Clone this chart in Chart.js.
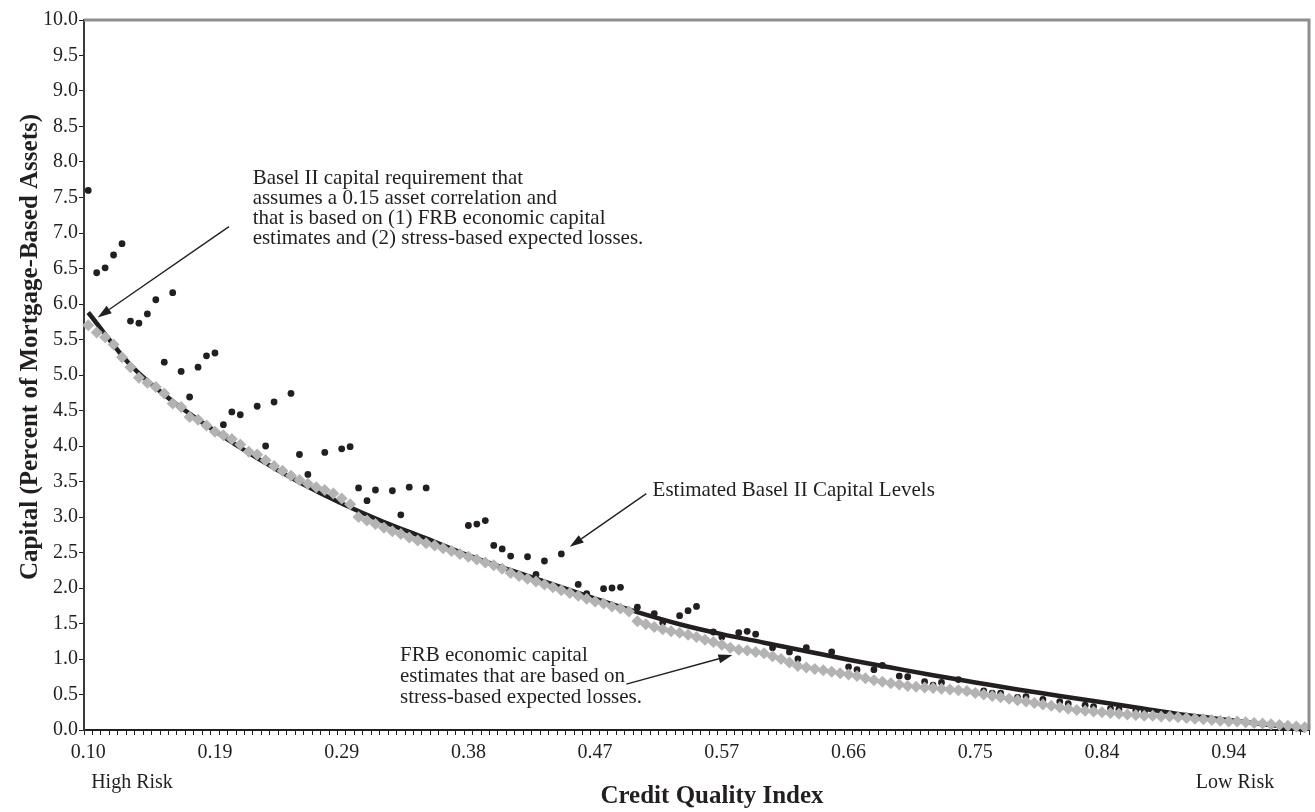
<!DOCTYPE html>
<html>
<head>
<meta charset="utf-8">
<script src="https://cdn.jsdelivr.net/npm/chart.js@4.4.1/dist/chart.umd.min.js"></script>
<style>
  html, body { margin: 0; padding: 0; background: #ffffff; }
  canvas { display: block; }
</style>
</head>
<body>
<canvas id="chart" width="1315" height="812"></canvas>
<script>
// Credit quality index axis: one category per step, a label every 15 steps
const tickLabels = ['0.10', '0.19', '0.29', '0.38', '0.47', '0.57', '0.66', '0.75', '0.84', '0.94'];
const TICK_EVERY = 15;

// FRB economic capital estimates based on stress-based expected losses (grey diamonds)
const frbCapital = [
  5.70, 5.60, 5.53, 5.43, 5.25, 5.11, 4.96, 4.89, 4.83, 4.74,
  4.60, 4.55, 4.41, 4.37, 4.29, 4.20, 4.15, 4.10, 4.02, 3.92,
  3.88, 3.80, 3.72, 3.65, 3.58, 3.52, 3.47, 3.42, 3.38, 3.33,
  3.26, 3.18, 3.00, 2.95, 2.90, 2.85, 2.80, 2.76, 2.71, 2.67,
  2.63, 2.60, 2.56, 2.52, 2.48, 2.44, 2.40, 2.36, 2.32, 2.27,
  2.21, 2.17, 2.13, 2.09, 2.05, 2.01, 1.97, 1.93, 1.89, 1.85,
  1.81, 1.78, 1.74, 1.71, 1.67, 1.53, 1.49, 1.45, 1.42, 1.39,
  1.37, 1.34, 1.31, 1.27, 1.24, 1.20, 1.16, 1.13, 1.12, 1.10,
  1.08, 1.04, 1.00, 0.95, 0.90, 0.88, 0.86, 0.84, 0.82, 0.80,
  0.78, 0.76, 0.73, 0.70, 0.68, 0.66, 0.64, 0.62, 0.61, 0.60,
  0.59, 0.58, 0.57, 0.56, 0.55, 0.52, 0.50, 0.48, 0.46, 0.44,
  0.42, 0.40, 0.38, 0.36, 0.34, 0.32, 0.30, 0.28, 0.27, 0.26,
  0.25, 0.24, 0.23, 0.22, 0.21, 0.20, 0.20, 0.19, 0.19, 0.18,
  0.17, 0.16, 0.15, 0.14, 0.13, 0.12, 0.12, 0.11, 0.10, 0.09,
  0.08, 0.07, 0.06, 0.05, 0.04
];

// Estimated Basel II capital levels (black dots)
const estimatedBasel = [
  7.60, 6.44, 6.51, 6.69, 6.85, 5.76, 5.73, 5.86, 6.06, 5.18,
  6.16, 5.05, 4.69, 5.11, 5.27, 5.31, 4.30, 4.48, 4.44, null,
  4.56, 4.00, 4.62, null, 4.74, 3.88, 3.60, null, 3.91, null,
  3.96, 3.99, 3.41, 3.23, 3.38, null, 3.37, 3.03, 3.42, null,
  3.41, null, null, null, null, 2.88, 2.90, 2.95, 2.60, 2.55,
  2.45, null, 2.44, 2.19, 2.38, null, 2.48, null, 2.05, 1.92,
  null, 1.99, 2.00, 2.01, null, 1.73, null, 1.64, 1.51, null,
  1.61, 1.68, 1.74, null, 1.38, 1.31, null, 1.37, 1.39, 1.35,
  null, 1.16, null, 1.10, 1.00, 1.16, null, null, 1.10, null,
  0.89, 0.85, null, 0.85, 0.91, null, 0.76, 0.75, null, 0.68,
  0.63, 0.67, null, 0.71, 0.54, null, 0.55, 0.52, 0.52, null,
  0.46, 0.47, null, 0.43, null, 0.40, 0.37, null, 0.35, 0.33,
  null, 0.30, 0.29, null, 0.27, 0.25, null, 0.23, 0.22, null,
  0.19, 0.18, null, 0.15, null, null, null, null, null, null,
  null, null, null, null, null
];

// Basel II requirement curve (0.15 asset correlation), read at these category steps
const requirementSteps = [0, 5, 10, 15, 20, 25, 30, 35, 40, 45, 50, 55, 60, 65, 70, 75, 80, 85, 90, 95, 100, 105, 110, 115, 120, 125, 130, 135, 140, 144];
const requirementValues = [5.88, 5.14, 4.63, 4.21, 3.83, 3.49, 3.19, 2.93, 2.70, 2.46, 2.25, 2.05, 1.85, 1.66, 1.49, 1.35, 1.23, 1.11, 0.99, 0.88, 0.77, 0.67, 0.57, 0.48, 0.39, 0.30, 0.21, 0.14, 0.07, 0.00];

const categories = frbCapital.map((_, i) => (i % TICK_EVERY === 0 ? tickLabels[i / TICK_EVERY] : ''));
const requirementSeries = categories.map(() => null);
requirementSteps.forEach((step, k) => { requirementSeries[step] = requirementValues[k]; });

const INK = '#231f20';
const GREY = '#b3b3b3';
const SERIF = '"Liberation Serif", "Times New Roman", serif';

// Callouts, anchored in data space (category step, capital value)
const callouts = [
  {
    lines: ['Basel II capital requirement that', 'assumes a 0.15 asset correlation and',
            'that is based on (1) FRB economic capital', 'estimates and (2) stress-based expected losses.'],
    at: [19.46, 7.69], lineGap: 20,
    arrow: { from: [16.66, 7.09], to: [1.12, 5.81] }
  },
  {
    lines: ['Estimated Basel II Capital Levels'],
    at: [66.8, 3.29], lineGap: 20,
    arrow: { from: [66.06, 3.33], to: [57.0, 2.58] }
  },
  {
    lines: ['FRB economic capital', 'estimates that are based on', 'stress-based expected losses.'],
    at: [36.9, 0.975], lineGap: 21,
    arrow: { from: [63.7, 0.647], to: [76.25, 1.055] }
  }
];

function drawArrow(ctx, x1, y1, x2, y2) {
  const ang = Math.atan2(y2 - y1, x2 - x1);
  const len = 14, half = 4.5;
  const bx = x2 - len * Math.cos(ang), by = y2 - len * Math.sin(ang);
  ctx.beginPath();
  ctx.moveTo(x1, y1);
  ctx.lineTo(bx, by);
  ctx.lineWidth = 1.4;
  ctx.strokeStyle = INK;
  ctx.stroke();
  ctx.beginPath();
  ctx.moveTo(x2, y2);
  ctx.lineTo(bx + half * Math.sin(ang), by - half * Math.cos(ang));
  ctx.lineTo(bx - half * Math.sin(ang), by + half * Math.cos(ang));
  ctx.closePath();
  ctx.fillStyle = INK;
  ctx.fill();
}

const decorations = {
  id: 'decorations',
  afterDraw(chart) {
    const { ctx, chartArea: a, scales: { x, y } } = chart;
    const px = (i) => x.getPixelForValue(i);
    const py = (v) => y.getPixelForValue(v);
    ctx.save();

    // grey frame on the top and right of the plot area
    ctx.strokeStyle = '#8e8e8e';
    ctx.lineWidth = 3;
    ctx.beginPath();
    ctx.moveTo(a.left, a.top);
    ctx.lineTo(a.right, a.top);
    ctx.lineTo(a.right, a.bottom);
    ctx.stroke();

    // callout texts and arrows
    ctx.fillStyle = INK;
    ctx.font = '21px ' + SERIF;
    ctx.textAlign = 'left';
    ctx.textBaseline = 'alphabetic';
    callouts.forEach((c) => {
      const x0 = px(c.at[0]), y0 = py(c.at[1]);
      c.lines.forEach((t, k) => ctx.fillText(t, x0, y0 + k * c.lineGap));
      drawArrow(ctx, px(c.arrow.from[0]), py(c.arrow.from[1]), px(c.arrow.to[0]), py(c.arrow.to[1]));
    });

    // axis titles and end labels
    ctx.fillStyle = INK;
    ctx.textAlign = 'center';
    ctx.textBaseline = 'middle';
    ctx.font = '20px ' + SERIF;
    ctx.fillText('High Risk', 132, 783);
    ctx.fillText('Low Risk', 1235, 783);
    ctx.font = 'bold 25px ' + SERIF;
    ctx.fillText('Credit Quality Index', 712, 797);
    ctx.save();
    ctx.translate(31, 347);
    ctx.rotate(-Math.PI / 2);
    ctx.font = 'bold 25px ' + SERIF;
    ctx.fillText('Capital (Percent of Mortgage-Based Assets)', 0, 0);
    ctx.restore();

    ctx.restore();
  }
};

new Chart(document.getElementById('chart').getContext('2d'), {
  type: 'line',
  data: {
    labels: categories,
    datasets: [
      {
        label: 'FRB economic capital estimates',
        data: frbCapital,
        showLine: false,
        pointStyle: 'rectRot',
        pointRadius: 6,
        pointBackgroundColor: GREY,
        pointBorderColor: GREY,
        pointBorderWidth: 0,
        clip: false,
        order: 0
      },
      {
        label: 'Basel II capital requirement',
        data: requirementSeries,
        borderColor: INK,
        borderWidth: 4.5,
        pointRadius: 0,
        spanGaps: true,
        cubicInterpolationMode: 'monotone',
        clip: false,
        order: 1
      },
      {
        label: 'Estimated Basel II capital levels',
        data: estimatedBasel,
        showLine: false,
        pointStyle: 'circle',
        pointRadius: 3.4,
        pointBackgroundColor: INK,
        pointBorderWidth: 0,
        clip: false,
        order: 2
      }
    ]
  },
  options: {
    responsive: false,
    animation: false,
    devicePixelRatio: 1,
    layout: { padding: { top: 20, right: 4, left: 0, bottom: 0 } },
    plugins: { legend: { display: false }, tooltip: { enabled: false } },
    scales: {
      x: {
        type: 'category',
        offset: true,
        grid: { offset: true, drawOnChartArea: false, drawTicks: true, tickLength: 5, color: INK },
        border: { color: INK, width: 2 },
        ticks: {
          autoSkip: false, maxRotation: 0, minRotation: 0, padding: 6,
          color: INK, font: { family: SERIF, size: 20 }
        },
        afterFit: (s) => { s.height = 82; }
      },
      y: {
        min: 0, max: 10,
        grid: { drawOnChartArea: false, drawTicks: true, tickLength: 5, color: INK },
        border: { color: '#3a3a3a', width: 2 },
        ticks: {
          stepSize: 0.5, padding: 1, color: INK,
          font: { family: SERIF, size: 20 },
          callback: (v) => Number(v).toFixed(1)
        },
        afterFit: (s) => { s.width = 84; }
      }
    }
  },
  plugins: [decorations]
});
</script>
</body>
</html>
